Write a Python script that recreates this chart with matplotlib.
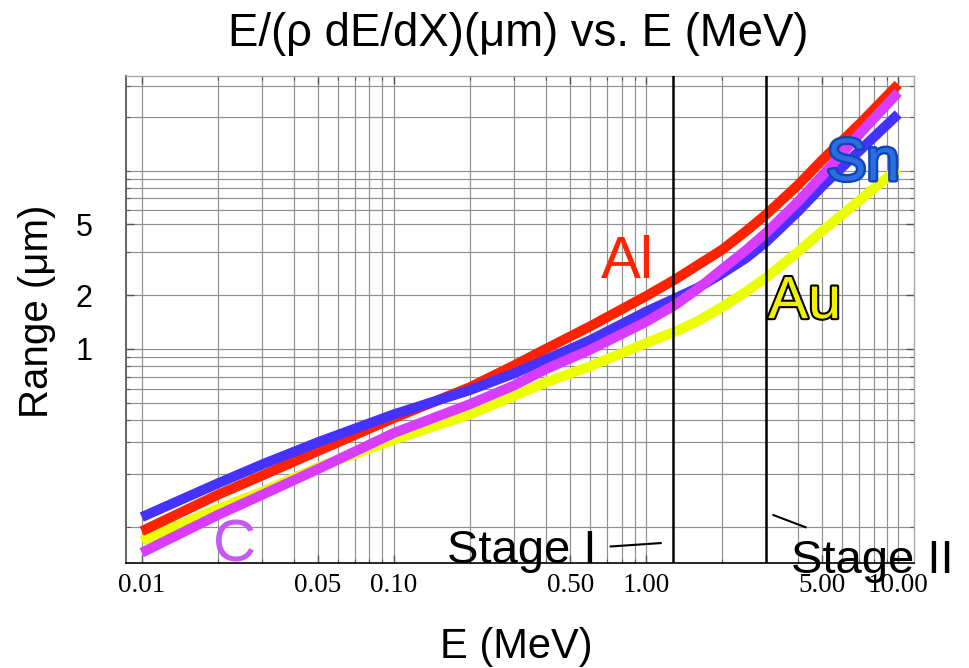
import matplotlib
matplotlib.use('Agg')
import matplotlib.pyplot as plt
import matplotlib.patheffects as pe
from matplotlib.ticker import FixedLocator, FixedFormatter, NullFormatter

plt.rcParams['font.family'] = ['Liberation Sans', 'DejaVu Sans']

# energies (MeV) and ranges (um) per target
energy = [0.01, 0.02, 0.03, 0.05, 0.1, 0.2, 0.3, 0.4, 0.6, 1.0, 1.3, 1.6, 2.0, 2.5, 3.0, 4.0, 5.0, 7.0, 10.0]
range_al = [0.095, 0.152, 0.195, 0.268, 0.41, 0.61, 0.81, 1.0, 1.34, 1.98, 2.45, 2.95, 3.6, 4.6, 5.7, 8.3, 11.5, 18.2, 30.5]
range_sn = [0.114, 0.176, 0.225, 0.3, 0.43, 0.588, 0.73, 0.87, 1.12, 1.62, 1.92, 2.2, 2.65, 3.25, 4.0, 5.9, 8.2, 12.9, 20.8]
range_c = [0.072, 0.117, 0.152, 0.212, 0.338, 0.49, 0.625, 0.77, 0.99, 1.42, 1.76, 2.17, 2.8, 3.6, 4.5, 6.7, 9.4, 16.0, 27.5]
range_au = [0.084, 0.127, 0.158, 0.217, 0.31, 0.43, 0.545, 0.65, 0.8, 1.08, 1.25, 1.43, 1.72, 2.1, 2.52, 3.5, 4.6, 6.8, 10.3]

x_ticks = [0.01, 0.05, 0.1, 0.5, 1.0, 5.0, 10.0]
x_tick_labels = ['0.01', '0.05', '0.10', '0.50', '1.00', '5.00', '10.00']
y_ticks = [1, 2, 5]
y_tick_labels = ['1', '2', '5']
x_grid = [0.01, 0.02, 0.03, 0.04, 0.05, 0.06, 0.07, 0.08, 0.09,
          0.1, 0.2, 0.3, 0.4, 0.5, 0.6, 0.7, 0.8, 0.9,
          1, 2, 3, 4, 5, 6, 7, 8, 9, 10]
y_grid = [0.1, 0.2, 0.3, 0.4, 0.5, 0.6, 0.7, 0.8, 0.9,
          1, 2, 3.5, 5, 6, 7, 8, 9, 10, 20, 30]
stage_energies = [1.28, 3.0]

fig = plt.figure(figsize=(9.7, 6.68), dpi=100)
ax = fig.add_axes([126 / 970, 105 / 668, 788 / 970, 487 / 668])
ax.set_xscale('log')
ax.set_yscale('log')
ax.set_xlim(0.00866, 11.55)
ax.set_ylim(0.063, 34)

ax.xaxis.set_major_locator(FixedLocator(x_ticks))
ax.xaxis.set_major_formatter(FixedFormatter(x_tick_labels))
ax.xaxis.set_minor_locator(FixedLocator([v for v in x_grid if v not in x_ticks]))
ax.xaxis.set_minor_formatter(NullFormatter())
ax.yaxis.set_major_locator(FixedLocator(y_ticks))
ax.yaxis.set_major_formatter(FixedFormatter(y_tick_labels))
ax.yaxis.set_minor_locator(FixedLocator([v for v in y_grid if v not in y_ticks]))
ax.yaxis.set_minor_formatter(NullFormatter())

ax.set_axisbelow(True)
ax.grid(True, which='both', color='#909090', lw=0.85)
ax.tick_params(which='both', direction='in', top=True, right=True, color='#555555')
ax.tick_params(which='major', length=6, width=1.0)
ax.tick_params(which='minor', length=3, width=0.8)
ax.tick_params(axis='x', pad=7)
ax.tick_params(axis='y', pad=24)
for lab in ax.get_xticklabels():
    lab.set_fontfamily('Liberation Serif')
    lab.set_fontsize(19.5)
for lab in ax.get_yticklabels():
    lab.set_fontsize(22)

ax.spines['left'].set_color('#6a6a6a')
ax.spines['left'].set_linewidth(1.5)
ax.spines['bottom'].set_color('black')
ax.spines['bottom'].set_linewidth(1.2)
for side in ['top', 'right']:
    ax.spines[side].set_color('#a8a8a8')
    ax.spines[side].set_linewidth(1.0)

lw = 7.2
style = dict(lw=lw, solid_capstyle='butt', solid_joinstyle='round')
ax.plot(energy, range_au, color='#ebff00', zorder=3, **style)
ax.plot(energy, range_al, color='#ff2200', zorder=4, **style)
ax.plot(energy, range_sn, color='#4632ff', zorder=5, **style)
ax.plot(energy, range_c, color='#d83cff', zorder=6, **style)

for e in stage_energies:
    ax.axvline(e, color='black', lw=1.8, zorder=7)

# element labels
ax.text(0.662, 2.5, 'Al', color='#ff2200', fontsize=43, zorder=8)
ax.text(3.05, 1.49, 'Au', color='#f0f000', fontsize=43, zorder=8,
        path_effects=[pe.Stroke(linewidth=3, foreground='black'), pe.Normal()])
ax.text(5.2, 8.86, 'Sn', color='#2a6ee0', fontsize=43, zorder=8,
        path_effects=[pe.Stroke(linewidth=3.5, foreground='#1146b8'), pe.Normal()])
ax.text(0.0192, 0.064, 'C', color='#c45af4', fontsize=43, zorder=8)

# stage markers
ax.text(0.162, 0.063, 'Stage I', color='black', fontsize=34, zorder=8)
ax.plot([0.724, 1.143], [0.078, 0.0815], color='black', lw=1.5, zorder=8)
ax.text(3.75, 0.0555, 'Stage II', color='black', fontsize=34, zorder=8, clip_on=False)
ax.plot([3.2, 4.29], [0.117, 0.1], color='black', lw=1.5, zorder=8)

fig.text(518 / 970, 1 - 46 / 668, 'E/(\u03c1 dE/dX)(\u03bcm) vs. E (MeV)', fontsize=32.8,
         ha='center', va='baseline')
fig.text(516 / 970, 1 - 658 / 668, 'E (MeV)', fontsize=30, ha='center', va='baseline')
fig.text(37 / 970, 1 - 311 / 668, 'Range (\u03bcm)', fontsize=29, rotation=90,
         ha='center', va='center')

fig.savefig('out.png', dpi=100)
